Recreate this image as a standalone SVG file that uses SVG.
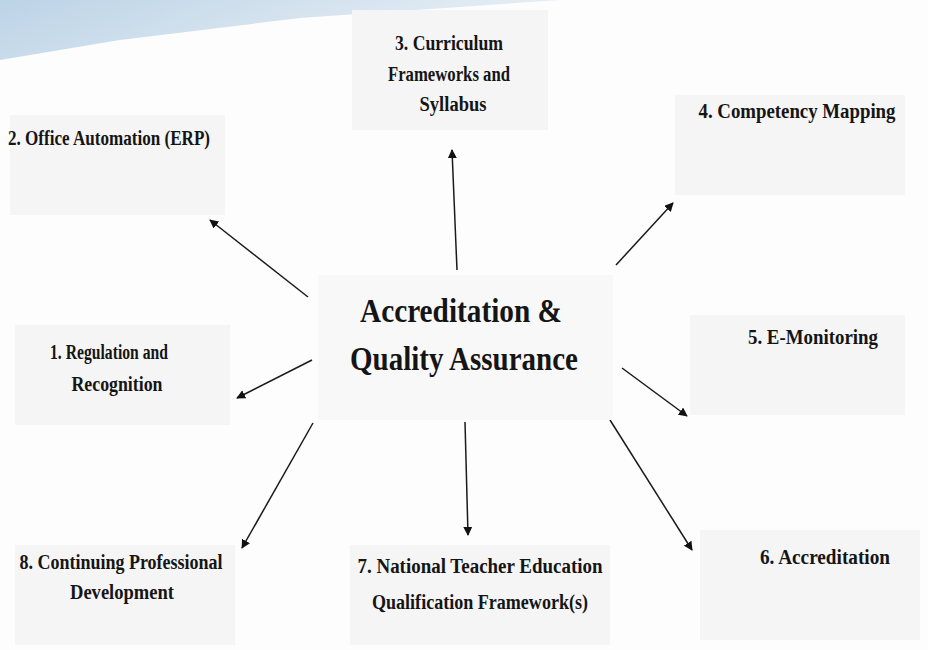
<svg xmlns="http://www.w3.org/2000/svg" width="928" height="650" viewBox="0 0 928 650">
<defs>
<marker id="ah" viewBox="0 0 10 10" refX="9" refY="5" markerWidth="9" markerHeight="9" markerUnits="userSpaceOnUse" orient="auto">
<path d="M0,0 L10,5 L0,10 z" fill="#111"/>
</marker>
<linearGradient id="edge" x1="0" y1="0" x2="1" y2="0.3">
<stop offset="0" stop-color="#bcd3e6"/>
<stop offset="1" stop-color="#e9f0f6"/>
</linearGradient>
</defs>
<style>
.bg{fill:#fdfdfd}
.box{fill:#f5f5f5}
.t{font-family:"Liberation Serif",serif;font-weight:bold;fill:#151515;text-anchor:middle}
.s{font-size:20px}
.big{font-size:34px}
.c line{stroke:#1a1a1a;stroke-width:1.5;marker-end:url(#ah)}
</style>
<rect class="bg" width="928" height="650"/>
<polygon points="0,0 560,0 300,18 120,40 0,60" fill="url(#edge)"/>
<g class="c" id="connectors">
<line x1="308" y1="297" x2="210" y2="220"/>
<line x1="457" y1="270" x2="452" y2="150"/>
<line x1="616" y1="265" x2="673" y2="203"/>
<line x1="312" y1="360" x2="237" y2="398"/>
<line x1="622" y1="368" x2="687" y2="416"/>
<line x1="313" y1="423" x2="242" y2="548"/>
<line x1="465" y1="422" x2="468" y2="535"/>
<line x1="610" y1="420" x2="692" y2="550"/>
</g>
<g id="center">
<rect x="318" y="275" width="295" height="145" fill="#f8f8f8"/>
<text class="t big" x="461" y="322" textLength="202" lengthAdjust="spacingAndGlyphs">Accreditation &amp;</text>
<text class="t big" x="464" y="370" textLength="228" lengthAdjust="spacingAndGlyphs">Quality Assurance</text>
</g>
<g id="n3">
<rect class="box" x="352" y="10" width="196" height="120"/>
<text class="t s" x="449" y="50" textLength="108" lengthAdjust="spacingAndGlyphs">3. Curriculum</text>
<text class="t s" x="449" y="81" textLength="122" lengthAdjust="spacingAndGlyphs">Frameworks and</text>
<text class="t s" x="453" y="111" textLength="67" lengthAdjust="spacingAndGlyphs">Syllabus</text>
</g>
<g id="n2">
<rect class="box" x="10" y="115" width="215" height="100"/>
<text class="t s" x="109" y="145" textLength="202" lengthAdjust="spacingAndGlyphs">2. Office Automation (ERP)</text>
</g>
<g id="n4">
<rect class="box" x="675" y="95" width="230" height="100"/>
<text class="t s" x="797" y="118" textLength="197" lengthAdjust="spacingAndGlyphs">4. Competency Mapping</text>
</g>
<g id="n1">
<rect class="box" x="15" y="325" width="215" height="100"/>
<text class="t s" x="109" y="359" textLength="118" lengthAdjust="spacingAndGlyphs">1. Regulation and</text>
<text class="t s" x="117" y="391" textLength="91" lengthAdjust="spacingAndGlyphs">Recognition</text>
</g>
<g id="n5">
<rect class="box" x="690" y="315" width="215" height="100"/>
<text class="t s" x="813" y="344" textLength="130" lengthAdjust="spacingAndGlyphs">5. E-Monitoring</text>
</g>
<g id="n8">
<rect class="box" x="15" y="545" width="220" height="100" fill="#f8f8f8"/>
<text class="t s" x="121" y="569" textLength="203" lengthAdjust="spacingAndGlyphs">8. Continuing Professional</text>
<text class="t s" x="122" y="599" textLength="104" lengthAdjust="spacingAndGlyphs">Development</text>
</g>
<g id="n7">
<rect class="box" x="350" y="545" width="260" height="100"/>
<text class="t s" x="480" y="573" textLength="245" lengthAdjust="spacingAndGlyphs">7. National Teacher Education</text>
<text class="t s" x="480" y="609" textLength="216" lengthAdjust="spacingAndGlyphs">Qualification Framework(s)</text>
</g>
<g id="n6">
<rect class="box" x="700" y="530" width="220" height="110"/>
<text class="t s" x="825" y="564" textLength="130" lengthAdjust="spacingAndGlyphs">6. Accreditation</text>
</g>
</svg>
